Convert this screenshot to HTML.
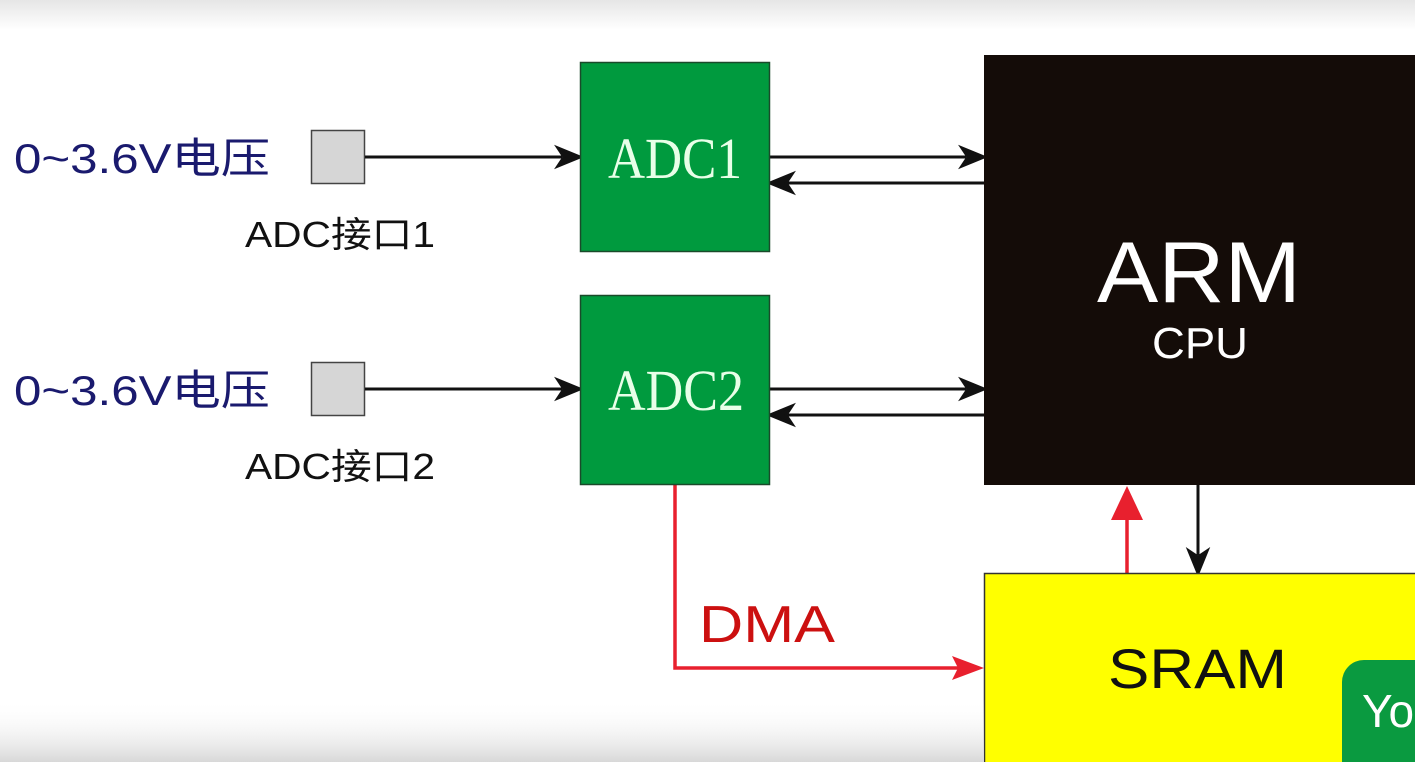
<!DOCTYPE html>
<html><head><meta charset="utf-8"><style>
html,body{margin:0;padding:0;width:1415px;height:762px;overflow:hidden;background:#fff}
</style></head><body>
<svg width="1415" height="762" viewBox="0 0 1415 762" xmlns="http://www.w3.org/2000/svg">
<defs>
<linearGradient id="top" x1="0" y1="0" x2="0" y2="1"><stop offset="0" stop-color="#e6e6e6"/><stop offset="1" stop-color="#fff"/></linearGradient>
<linearGradient id="bot" x1="0" y1="0" x2="0" y2="1"><stop offset="0" stop-color="#fff" stop-opacity="0"/><stop offset="1" stop-color="#d8d8d8"/></linearGradient>
</defs>
<rect x="0" y="0" width="1415" height="30" fill="url(#top)"/>
<g font-family="'Liberation Sans','Noto Sans CJK SC',sans-serif">
<text x="14" y="173" font-size="42" fill="#1a1a6e" textLength="256" lengthAdjust="spacingAndGlyphs">0~3.6V电压</text>
<text x="14" y="405" font-size="42" fill="#1a1a6e" textLength="256" lengthAdjust="spacingAndGlyphs">0~3.6V电压</text>
<text x="245" y="247" font-size="36" fill="#111" textLength="190" lengthAdjust="spacingAndGlyphs">ADC接口1</text>
<text x="245" y="479" font-size="36" fill="#111" textLength="190" lengthAdjust="spacingAndGlyphs">ADC接口2</text>
</g>
<rect x="311.5" y="130.5" width="53" height="53" fill="#d6d6d6" stroke="#444" stroke-width="1.5"/>
<rect x="311.5" y="362.5" width="53" height="53" fill="#d6d6d6" stroke="#444" stroke-width="1.5"/>
<g stroke="#111" stroke-width="3" fill="#111">
<line x1="365" y1="157" x2="562" y2="157"/><polygon points="580,157 558,148 564,157 558,166"/>
<line x1="365" y1="389" x2="562" y2="389"/><polygon points="580,389 558,380 564,389 558,398"/>
<line x1="769" y1="157" x2="966" y2="157"/><polygon points="984,157 962,148 968,157 962,166"/>
<line x1="787" y1="183" x2="984" y2="183"/><polygon points="770,183 792,174 786,183 792,192"/>
<line x1="769" y1="389" x2="966" y2="389"/><polygon points="984,389 962,380 968,389 962,398"/>
<line x1="787" y1="415" x2="984" y2="415"/><polygon points="770,415 792,406 786,415 792,424"/>
<line x1="1198" y1="484" x2="1198" y2="555"/><polygon points="1198,573 1189,551 1198,557 1207,551"/>
</g>
<g stroke="#e8202e" stroke-width="3.5" fill="#e8202e">
<polyline points="675,484 675,668 962,668" fill="none"/><polygon points="984,668 952,656 958,668 952,680" stroke="none"/>
<line x1="1127" y1="573" x2="1127" y2="512"/><polygon points="1127,486 1111,520 1143,520" stroke="none"/>
</g>
<rect x="580.5" y="62.5" width="189" height="189" fill="#009a3e" stroke="#1a4a2a" stroke-width="1.5"/>
<rect x="580.5" y="295.5" width="189" height="189" fill="#009a3e" stroke="#1a4a2a" stroke-width="1.5"/>
<g font-family="'Liberation Serif',serif" font-size="58" fill="#e8ffe8">
<text x="608" y="178" textLength="134" lengthAdjust="spacingAndGlyphs">ADC1</text>
<text x="608" y="410" textLength="136" lengthAdjust="spacingAndGlyphs">ADC2</text>
</g>
<rect x="984" y="55" width="431" height="430" fill="#140c08"/>
<g font-family="'Liberation Sans',sans-serif" fill="#fff">
<text x="1097" y="302" font-size="86" textLength="204" lengthAdjust="spacingAndGlyphs">ARM</text>
<text x="1152" y="358" font-size="44" textLength="96" lengthAdjust="spacingAndGlyphs">CPU</text>
</g>
<rect x="984.5" y="573.5" width="440" height="200" fill="#ffff00" stroke="#333" stroke-width="1.5"/>
<text x="1108" y="688" font-family="'Liberation Sans',sans-serif" font-size="56" fill="#111" textLength="179" lengthAdjust="spacingAndGlyphs">SRAM</text>
<text x="699" y="642" font-family="'Liberation Sans',sans-serif" font-size="52" fill="#cc1010" textLength="136" lengthAdjust="spacingAndGlyphs">DMA</text>
<rect x="1342" y="660" width="100" height="130" rx="22" fill="#0a9a40"/>
<text x="1362" y="727" font-family="'Liberation Sans',sans-serif" font-size="46" fill="#fff">Yo</text>
<rect x="0" y="700" width="984" height="62" fill="url(#bot)"/>
</svg>
</body></html>
